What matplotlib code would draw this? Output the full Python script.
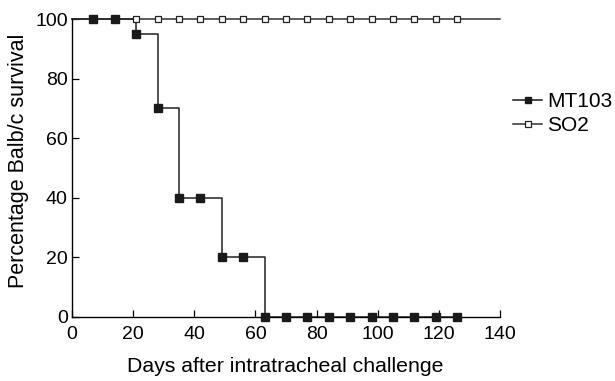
import numpy as np
import matplotlib
matplotlib.use('Agg')
import matplotlib.pyplot as plt

plt.rcParams['font.family'] = ['Liberation Sans', 'DejaVu Sans']

# days of observation and survival (%)
days = [0, 7, 14, 21, 28, 35, 42, 49, 56, 63, 70, 77, 84, 91, 98, 105, 112, 119, 126]
mt103 = [100, 100, 100, 95, 70, 40, 40, 20, 20, 0, 0, 0, 0, 0, 0, 0, 0, 0, 0]
so2 = [100] * len(days)
so2_end = 140

fig = plt.figure(figsize=(6.15, 3.81), dpi=100)
ax = fig.add_axes([0.1171, 0.168, 0.696, 0.782])

# step lines (no marker at day 0)
ax.plot(days + [so2_end], so2 + [so2[-1]], drawstyle='steps-post', color='#333333', lw=1.1, clip_on=False)
ax.plot(days, mt103, drawstyle='steps-post', color='#222222', lw=1.1, clip_on=False)
ax.plot(days[1:], mt103[1:], 's', color='#1a1a1a', ms=5.2, clip_on=False, zorder=4)
ax.plot(days[1:], so2[1:], 's', mfc='white', mec='#222222', mew=0.9, ms=5, clip_on=False, zorder=3)

# legend proxies
h1, = ax.plot([], [], '-s', color='#1a1a1a', ms=4, lw=1.1)
h2, = ax.plot([], [], '-s', color='#333333', mfc='white', mec='#222222', mew=0.9, ms=4, lw=1.1)
leg = ax.legend([h1, h2], ['MT103', 'SO2'], loc='center left',
                bbox_to_anchor=(513 / 615, 1 - 113.5 / 381), bbox_transform=fig.transFigure,
                frameon=False, fontsize=15, handlelength=1.4, handletextpad=0.25,
                labelspacing=0.25, borderpad=0, borderaxespad=0)

ax.set_xlim(0, 140)
ax.set_ylim(0, 100)
ax.set_xticks(np.arange(0, 141, 20))
ax.set_yticks(np.arange(0, 101, 20))
ax.tick_params(direction='in', length=5, labelsize=14, width=0.9)
ax.tick_params(axis='x', pad=6.5)
ax.tick_params(axis='y', pad=3)
for s in ['top', 'right']:
    ax.spines[s].set_visible(False)
for s in ['left', 'bottom']:
    ax.spines[s].set_linewidth(1.0)

ax.set_xlabel('Days after intratracheal challenge', fontsize=15.3, va='center')
ax.set_ylabel('Percentage Balb/c survival', fontsize=15.5, va='center')
ax.xaxis.set_label_coords(0.499, -0.166)
ax.yaxis.set_label_coords(-0.126, 0.523)

plt.savefig('out.png', dpi=100)
